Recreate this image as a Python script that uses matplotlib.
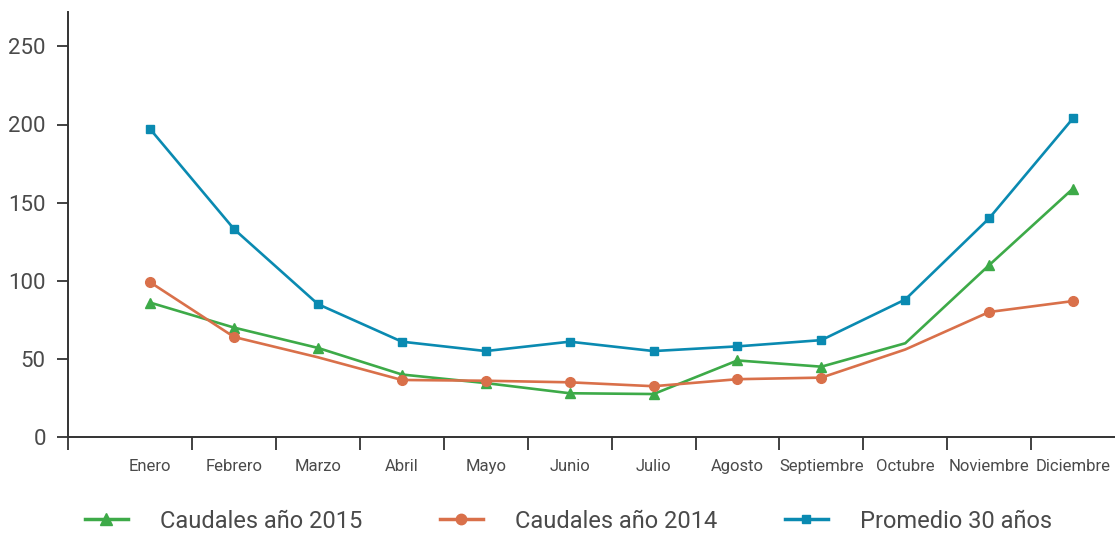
import matplotlib
matplotlib.use("Agg")
import matplotlib.pyplot as plt
from matplotlib.lines import Line2D
import numpy as np

months = ["Enero", "Febrero", "Marzo", "Abril", "Mayo", "Junio", "Julio",
          "Agosto", "Septiembre", "Octubre", "Noviembre", "Diciembre"]
caudales_2015 = [86, 70, 57, 40, 34.5, 28, 27.5, 49, 45, 60, 110, 159]
caudales_2014 = [99, 64, 51, 36.5, 36, 35, 32.5, 37, 38, 56, 80, 87]
promedio_30 = [197, 133, 85, 61, 55, 61, 55, 58, 62, 88, 140, 204]
yticks = [0, 50, 100, 150, 200, 250]
labels = ["Caudales año 2015", "Caudales año 2014", "Promedio 30 años"]

c_green = "#3daa48"
c_orange = "#d9704a"
c_blue = "#0a8ab1"
txt = "#4a4a4a"

plt.rcParams['font.family'] = ["Roboto", "DejaVu Sans"]

fig = plt.figure(figsize=(11.15, 5.34), dpi=100)
ax = fig.add_axes([68/1115, 97/534, 1 - 68/1115, (437-12)/534])

x = np.arange(len(months))
green_marks = [0, 1, 2, 3, 4, 5, 6, 7, 8, 10, 11]
orange_marks = [0, 1, 3, 4, 5, 6, 7, 8, 10, 11]

ax.plot(x, caudales_2015, color=c_green, lw=1.9, marker="^", ms=7.5,
        markevery=green_marks, label=labels[0])
ax.plot(x, caudales_2014, color=c_orange, lw=1.9, marker="o", ms=7,
        markevery=orange_marks, label=labels[1])
ax.plot(x, promedio_30, color=c_blue, lw=1.9, marker="s", ms=6,
        label=labels[2])

ax.set_xlim(-0.98, 11.5)
ax.set_ylim(0, 272)

for s in ["top", "right"]:
    ax.spines[s].set_visible(False)
for s in ["left", "bottom"]:
    ax.spines[s].set_color("#333333")
    ax.spines[s].set_linewidth(1.4)

ax.set_yticks(yticks)
ax.set_yticklabels([str(v) for v in yticks])
ax.tick_params(axis="y", length=8, width=1.3, color="#333333", pad=8,
               labelsize=16, labelcolor=txt)

bounds = [-0.98] + [i + 0.5 for i in range(11)]
ax.set_xticks(bounds)
ax.set_xticklabels([""] * len(bounds))
ax.tick_params(axis="x", which="major", length=9, width=1.3, color="#333333")
ax.set_xticks(x, minor=True)
ax.set_xticklabels(months, minor=True, fontsize=12, color=txt)
ax.tick_params(axis="x", which="minor", length=0, pad=16)

# legend entries placed individually
handles = [
    Line2D([], [], color=c_green, lw=2.5, marker="^", ms=8),
    Line2D([], [], color=c_orange, lw=2.5, marker="o", ms=7.5),
    Line2D([], [], color=c_blue, lw=2.5, marker="s", ms=6),
]
xpos = [85, 440, 785]
for h, lab, xp in zip(handles, labels, xpos):
    leg = fig.legend([h], [lab], loc="center left",
                     bbox_to_anchor=(xp/1115, 1 - 521/534),
                     frameon=False, borderpad=0, borderaxespad=0,
                     handlelength=1.82, handletextpad=1.36,
                     prop={"size": 17})
    for t in leg.get_texts():
        t.set_color(txt)

fig.savefig("out.png", dpi=100)
